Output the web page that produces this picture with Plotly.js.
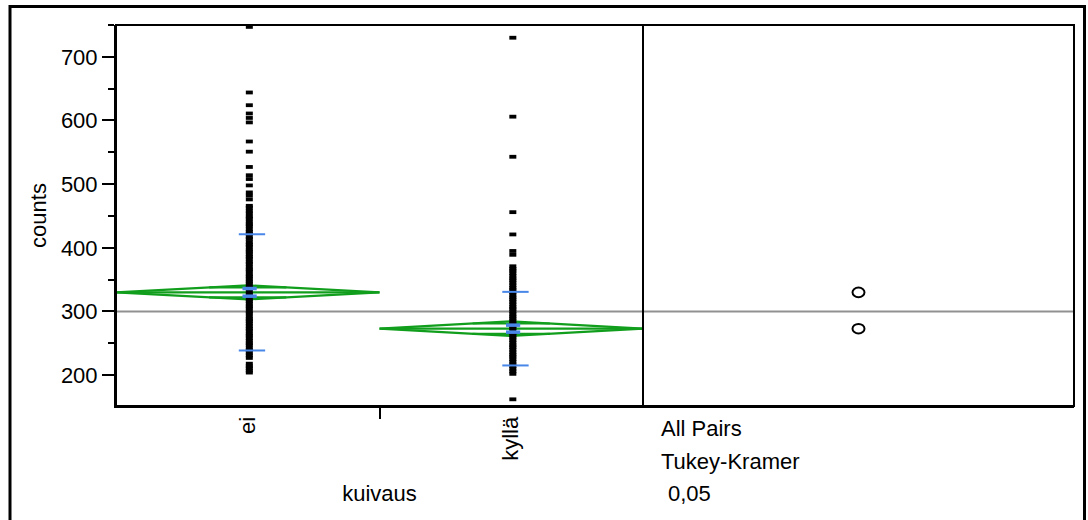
<!DOCTYPE html>
<html>
<head>
<meta charset="utf-8">
<script src="https://cdn.plot.ly/plotly-3.0.1.min.js"></script>
<style>
  html, body { margin: 0; padding: 0; background: #ffffff; }
  #chart { width: 1088px; height: 520px; }
</style>
</head>
<body>
<div id="chart"></div>
<script>
// ---- data ----
const categories = ['ei', 'kyllä'];
const countsEi = [747, 644, 624, 611, 604, 597, 567, 551, 527, 514, 508, 498, 487, 482, 476,
  466, 463, 458, 454, 449, 446, 441, 437, 434, 429, 425, 422, 417, 414, 409, 405, 402, 397,
  394, 390, 386, 383, 378, 375, 370, 366, 363, 358, 355, 351, 347, 344, 339, 336, 331, 327,
  324, 319, 316, 312, 308, 305, 300, 297, 292, 288, 285, 281, 277, 273, 270, 265, 262, 258,
  254, 250, 247, 242, 239, 235, 231, 227, 218, 214, 211, 207, 204];
const countsKylla = [730, 606, 543, 456, 421, 395, 389, 371, 367, 364, 360, 356, 352, 349,
  345, 341, 337, 334, 330, 326, 322, 319, 315, 311, 307, 304, 300, 296, 292, 289, 285, 281,
  277, 274, 270, 266, 262, 259, 255, 251, 247, 244, 240, 236, 232, 229, 225, 221, 217, 214,
  210, 206, 202, 162];
const groupMeans = [330, 273];
const groupCIHalf = [11, 11.5];
const groupSE = [6, 5.5];
const groupSD = [91.3, 57.8];
const grandMean = 300;
const compRadius = [7.5, 7.5];
const yTickVals = [200, 300, 400, 500, 600, 700];
const yTitle = 'counts';
const xTitle = 'kuivaus';
const testLines = ['All Pairs', 'Tukey-Kramer', '0,05'];

// ---- styles ----
const GREEN = 'rgb(16,158,28)';
const BLUE = 'rgb(72,134,232)';
const GRAY = 'rgb(145,145,145)';
const FONT = 'Liberation Sans, Arial, sans-serif';
const splitX = 527 / 958;

const groups = [countsEi, countsKylla];
const traces = [];
const k = 1 - Math.SQRT1_2;

// diamonds (drawn first, beneath the points)
groups.forEach((vals, i) => {
  const m = groupMeans[i], h = groupCIHalf[i], o = h * Math.SQRT1_2;
  traces.push({
    type: 'scatter', mode: 'lines', xaxis: 'x', yaxis: 'y', hoverinfo: 'skip',
    x: [i - 0.5, i, i + 0.5, i, i - 0.5, null, i - 0.5, i + 0.5, null,
        i - 0.5 * k, i + 0.5 * k, null, i - 0.5 * k, i + 0.5 * k],
    y: [m, m + h, m, m - h, m, null, m, m, null, m + o, m + o, null, m - o, m - o],
    line: { color: GREEN, width: 2.2 }
  });
});

// points
groups.forEach((vals, i) => {
  traces.push({
    type: 'scatter', mode: 'markers', xaxis: 'x', yaxis: 'y',
    x: vals.map(() => i + 0.006), y: vals,
    marker: { symbol: 'line-ew', size: 5, color: 'black', line: { width: 3.8, color: 'black' } }
  });
});

// std dev lines and mean error bars (blue, on top)
groups.forEach((vals, i) => {
  const m = groupMeans[i], sd = groupSD[i], se = groupSE[i];
  traces.push({
    type: 'scatter', mode: 'lines', xaxis: 'x', yaxis: 'y', hoverinfo: 'skip',
    x: [i - 0.034, i + 0.066, null, i - 0.034, i + 0.066],
    y: [m + sd, m + sd, null, m - sd, m - sd],
    line: { color: BLUE, width: 2 }
  });
  traces.push({
    type: 'scatter', mode: 'lines', xaxis: 'x', yaxis: 'y', hoverinfo: 'skip',
    x: [i - 0.02, i + 0.034, null, i - 0.02, i + 0.034],
    y: [m + se, m + se, null, m - se, m - se],
    line: { color: BLUE, width: 3.5 }
  });
});

// frames and reference lines
const shapes = [
  { type: 'line', xref: 'paper', yref: 'y', x0: 0, x1: 1, y0: grandMean, y1: grandMean,
    line: { color: GRAY, width: 2 }, layer: 'below' },
  { type: 'rect', xref: 'paper', yref: 'paper', x0: 0, x1: splitX, y0: 0, y1: 1,
    line: { color: 'black', width: 2 }, layer: 'above' },
  { type: 'rect', xref: 'paper', yref: 'paper', x0: splitX, x1: 1, y0: 0, y1: 1,
    line: { color: 'black', width: 2 }, layer: 'above' },
  { type: 'rect', xref: 'paper', yref: 'paper', x0: -106 / 958, x1: 968.5 / 958,
    y0: -120 / 381, y1: 399.5 / 381, line: { color: 'black', width: 3 }, layer: 'above' }
];
// comparison circles
groupMeans.forEach((m, i) => {
  shapes.push({
    type: 'circle', xref: 'x2', yref: 'y', xsizemode: 'pixel', xanchor: 0.5,
    x0: -6, x1: 6, y0: m - compRadius[i], y1: m + compRadius[i],
    line: { color: 'black', width: 2 }, layer: 'above'
  });
});

const annX = (659 - 116) / 958;
const annotations = [
  { text: testLines[0], xref: 'paper', yref: 'paper', x: annX, y: (406 - 428) / 381 },
  { text: testLines[1], xref: 'paper', yref: 'paper', x: annX, y: (406 - 461) / 381 },
  { text: testLines[2], xref: 'paper', yref: 'paper', x: (666 - 116) / 958, y: (406 - 494) / 381 }
].map(a => Object.assign(a, { showarrow: false, xanchor: 'left', yanchor: 'middle',
  font: { family: FONT, size: 22, color: 'black' } }));

const layout = {
  width: 1088, height: 520,
  margin: { l: 116, r: 14, t: 25, b: 114, pad: 0 },
  paper_bgcolor: 'white', plot_bgcolor: 'white',
  showlegend: false,
  font: { family: FONT, size: 22, color: 'black' },
  xaxis: {
    domain: [0, splitX], range: [-0.5, 1.5], anchor: 'y',
    tickmode: 'array', tickvals: categories.map((c, i) => i), ticktext: categories,
    tickangle: -90, ticks: '', showgrid: false, zeroline: false,
    showline: true, linecolor: 'black', linewidth: 2,
    minor: { tickmode: 'array', tickvals: [0.5], ticks: 'outside', ticklen: 11,
             tickwidth: 2, tickcolor: 'black', showgrid: false },
    title: { text: xTitle, standoff: 26, font: { family: FONT, size: 22 } }
  },
  xaxis2: {
    domain: [splitX, 1], range: [0, 1], anchor: 'y',
    showticklabels: false, ticks: '', showgrid: false, zeroline: false,
    showline: true, linecolor: 'black', linewidth: 2
  },
  yaxis: {
    range: [151.5, 750], anchor: 'x',
    tickmode: 'array', tickvals: yTickVals,
    ticks: 'outside', ticklen: 12, tickwidth: 2, tickcolor: 'black',
    minor: { dtick: 50, tick0: 0, ticks: 'outside', ticklen: 6, tickwidth: 2,
             tickcolor: 'black', showgrid: false },
    showgrid: false, zeroline: false,
    showline: true, linecolor: 'black', linewidth: 2,
    title: { text: yTitle, standoff: 8, font: { family: FONT, size: 22 } }
  },
  shapes: shapes,
  annotations: annotations
};

Plotly.newPlot('chart', traces, layout, { staticPlot: true, displayModeBar: false });
</script>
</body>
</html>
